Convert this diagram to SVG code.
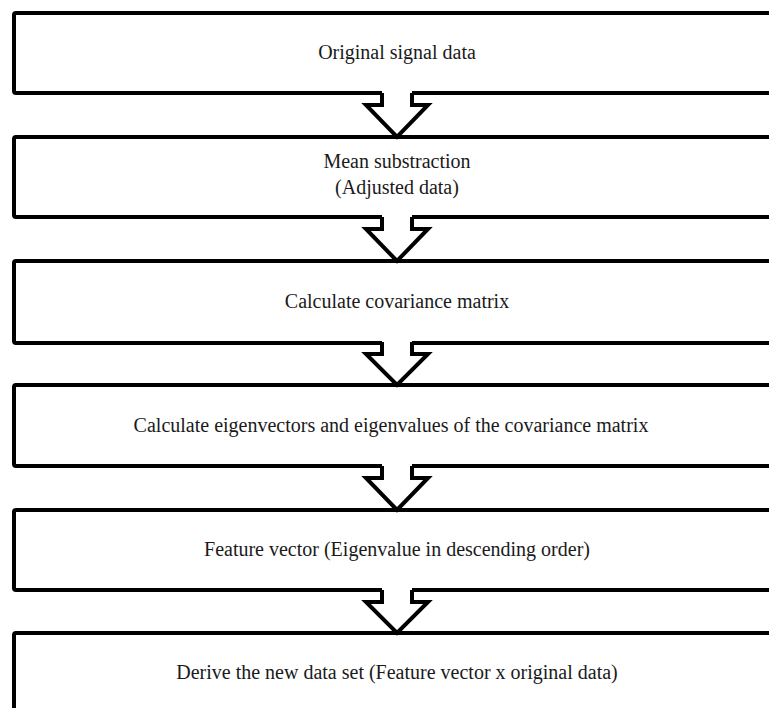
<svg xmlns="http://www.w3.org/2000/svg" width="769" height="708" viewBox="0 0 769 708">
<style>
.box{fill:#fff;stroke:#000;stroke-width:4;stroke-linejoin:round}
.lbl{font-family:"Liberation Serif","Times New Roman",serif;font-size:20px;fill:#1a1a1a;text-anchor:middle}
.arr{fill:#fff;stroke:#000;stroke-width:4;stroke-linejoin:miter}
.cover{fill:#fff;stroke:none}
</style>
<rect width="769" height="708" fill="#fff"/>
<g id="n1"><rect class="box" x="14" y="13" width="766" height="80" rx="2"/><text class="lbl" x="397" y="59">Original signal data</text></g>
<g id="n2"><rect class="box" x="14" y="137" width="766" height="80" rx="2"/><text class="lbl" x="397" y="168">Mean substraction</text><text class="lbl" x="397" y="194">(Adjusted data)</text></g>
<g id="n3"><rect class="box" x="14" y="261" width="766" height="82" rx="2"/><text class="lbl" x="397" y="308">Calculate covariance matrix</text></g>
<g id="n4"><rect class="box" x="14" y="385" width="766" height="81" rx="2"/><text class="lbl" x="391" y="432">Calculate eigenvectors and eigenvalues of the covariance matrix</text></g>
<g id="n5"><rect class="box" x="14" y="510" width="766" height="80" rx="2"/><text class="lbl" x="397" y="556">Feature vector (Eigenvalue in descending order)</text></g>
<g id="n6"><rect class="box" x="14" y="633" width="766" height="80" rx="2"/><text class="lbl" x="397" y="679">Derive the new data set (Feature vector x original data)</text></g>
<g id="connectors">
<g transform="translate(0,93)"><path class="cover" d="M382,-2 H412 V12 H428 L397,44 L366,12 H382 Z"/><path class="arr" d="M382,0 V12 H366 L397,44 L428,12 H412 V0"/></g>
<g transform="translate(0,217)"><path class="cover" d="M382,-2 H412 V12 H428 L397,44 L366,12 H382 Z"/><path class="arr" d="M382,0 V12 H366 L397,44 L428,12 H412 V0"/></g>
<g transform="translate(0,342)"><path class="cover" d="M382,-2 H412 V12 H428 L397,43 L366,12 H382 Z"/><path class="arr" d="M382,0 V12 H366 L397,43 L428,12 H412 V0"/></g>
<g transform="translate(0,466)"><path class="cover" d="M382,-2 H412 V12 H428 L397,44 L366,12 H382 Z"/><path class="arr" d="M382,0 V12 H366 L397,44 L428,12 H412 V0"/></g>
<g transform="translate(0,590)"><path class="cover" d="M382,-2 H412 V12 H428 L397,43 L366,12 H382 Z"/><path class="arr" d="M382,0 V12 H366 L397,43 L428,12 H412 V0"/></g>
</g>
</svg>
